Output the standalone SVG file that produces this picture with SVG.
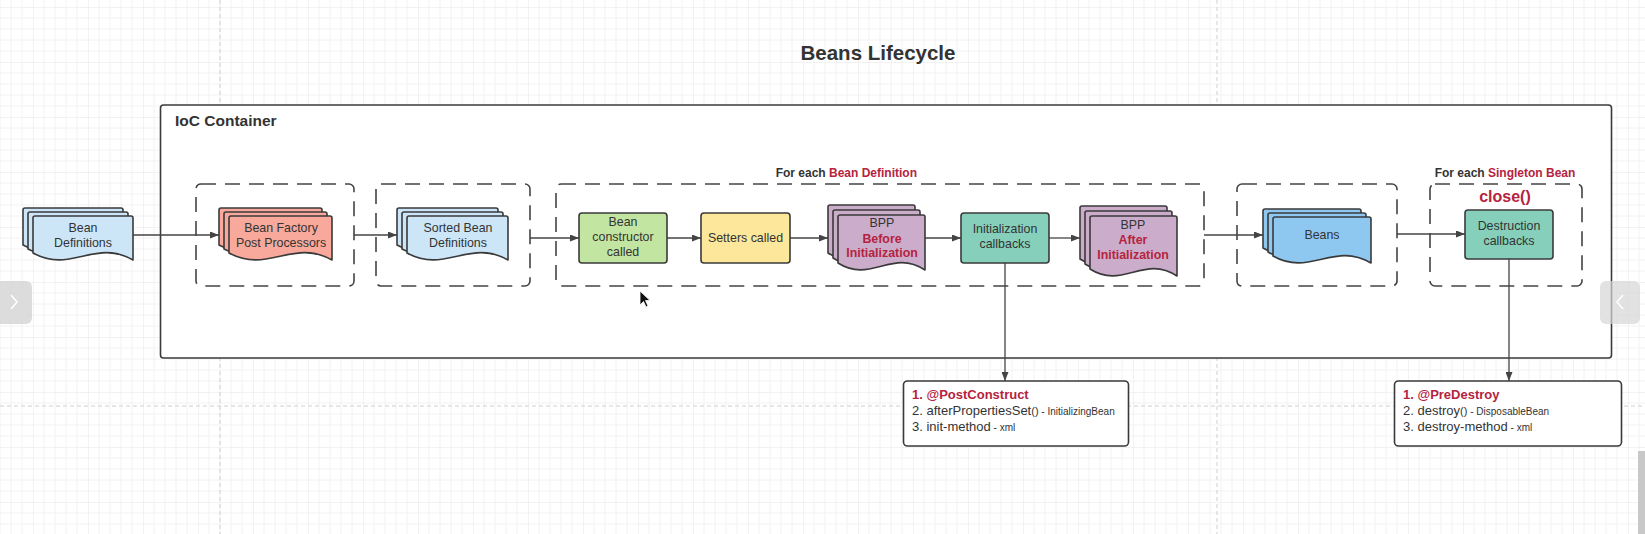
<svg xmlns="http://www.w3.org/2000/svg" width="1645" height="534" viewBox="0 0 1645 534">
  <style>
    text { font-family: "Liberation Sans", Arial, sans-serif; fill: #333; }
    .node { font-size: 12.4px; text-anchor: middle; }
    .red { fill: #b5233e; font-weight: bold; }
    .doc { stroke: #3a3a3a; stroke-width: 1.6; stroke-linejoin: round; }
    .box { stroke: #3a3a3a; stroke-width: 1.6; }
    .group { fill: #fff; stroke: #444; stroke-width: 1.6; stroke-dasharray: 15 9; }
    .conn { stroke: #444; stroke-width: 1.3; fill: none; marker-end: url(#arrow); }
    .pagebreak { stroke: #cfcfcf; stroke-width: 1; stroke-dasharray: 4 3; }
    .list { font-size: 13px; }
    .small { font-size: 10px; }
    .blue { fill: #cce6f8; }
    .salmon { fill: #f8a99b; }
    .green { fill: #c2e5a2; }
    .yellow { fill: #fde79b; }
    .purple { fill: #cbadcb; }
    .teal { fill: #86d0bb; }
    .beans { fill: #8ec8f0; }
  </style>
  <defs>
    <pattern id="grid" width="55" height="55" patternUnits="userSpaceOnUse" patternTransform="translate(33,7)">
      <path d="M11,0V55M22,0V55M33,0V55M44,0V55M0,11H55M0,22H55M0,33H55M0,44H55" stroke="#f2f2f2" stroke-width="1"/>
      <path d="M0,0V55M0,0H55" stroke="#e6e6e6" stroke-width="1"/>
    </pattern>
    <marker id="arrow" markerWidth="9" markerHeight="7" refX="9" refY="3.5" orient="auto" markerUnits="userSpaceOnUse">
      <path d="M0,0 L9,3.5 L0,7 z" fill="#444"/>
    </marker>
  </defs>

  <rect x="0" y="0" width="1645" height="534" fill="#fff"/>
  <rect x="0" y="0" width="1645" height="534" fill="url(#grid)"/>
  <line class="pagebreak" x1="220" y1="0" x2="220" y2="534"/>
  <line class="pagebreak" x1="1217" y1="0" x2="1217" y2="534"/>
  <line class="pagebreak" x1="0" y1="406" x2="1645" y2="406"/>

  <text x="878" y="60" font-size="20.5" font-weight="bold" text-anchor="middle" fill="#2b2b2b">Beans Lifecycle</text>

  <g id="ioc-container">
    <rect x="160.5" y="105" width="1451" height="253" rx="3" fill="#fff" stroke="#3a3a3a" stroke-width="1.6"/>
    <text x="175" y="126" font-size="15.5" font-weight="bold">IoC Container</text>
  </g>

  <g id="group-bfpp"><rect class="group" x="196" y="184" width="158" height="102" rx="5"/></g>
  <g id="group-sorted"><rect class="group" x="376" y="184" width="154" height="102" rx="5"/></g>
  <g id="group-each-bean-def">
    <rect class="group" x="556" y="184" width="648" height="102" rx="5"/>
    <text x="917" y="177" font-size="12" font-weight="bold" text-anchor="end">For each <tspan class="red">Bean Definition</tspan></text>
  </g>
  <g id="group-beans"><rect class="group" x="1237" y="184" width="160" height="102" rx="5"/></g>
  <g id="group-singleton">
    <rect class="group" x="1430" y="184" width="152" height="102" rx="5"/>
    <text x="1505" y="177" font-size="12" font-weight="bold" text-anchor="middle">For each <tspan class="red">Singleton Bean</tspan></text>
    <text x="1505" y="202" font-size="16" text-anchor="middle" class="red">close()</text>
  </g>

  <g id="connectors">
    <line class="conn" x1="133" y1="235" x2="219" y2="235"/>
    <line class="conn" x1="354" y1="235" x2="397" y2="235"/>
    <line class="conn" x1="530" y1="238" x2="579" y2="238"/>
    <line class="conn" x1="667" y1="238" x2="701" y2="238"/>
    <line class="conn" x1="790" y1="238" x2="828" y2="238"/>
    <line class="conn" x1="925" y1="238" x2="961" y2="238"/>
    <line class="conn" x1="1049" y1="238" x2="1080" y2="238"/>
    <line class="conn" x1="1204" y1="235" x2="1263" y2="235"/>
    <line class="conn" x1="1397" y1="234" x2="1465" y2="234"/>
    <line class="conn" x1="1005" y1="263" x2="1005" y2="381"/>
    <line class="conn" x1="1509" y1="259" x2="1509" y2="381"/>
  </g>

  <g id="bean-definitions">
    <path class="doc blue" d="M25,208 h96 q2,0 2,2 v42 c-38,-22 -62,14 -100,-7 v-35 q0,-2 2,-2 z"/>
    <path class="doc blue" d="M30,212 h96 q2,0 2,2 v42 c-38,-22 -62,14 -100,-7 v-35 q0,-2 2,-2 z"/>
    <path class="doc blue" d="M35,216 h96 q2,0 2,2 v42 c-38,-22 -62,14 -100,-7 v-35 q0,-2 2,-2 z"/>
    <text class="node" x="83" y="232">Bean</text>
    <text class="node" x="83" y="247">Definitions</text>
  </g>

  <g id="bean-factory-post-processors">
    <path class="doc salmon" d="M221,208 h99 q2,0 2,2 v42 c-39,-22 -64,14 -103,-7 v-35 q0,-2 2,-2 z"/>
    <path class="doc salmon" d="M226,212 h99 q2,0 2,2 v42 c-39,-22 -64,14 -103,-7 v-35 q0,-2 2,-2 z"/>
    <path class="doc salmon" d="M231,216 h99 q2,0 2,2 v42 c-39,-22 -64,14 -103,-7 v-35 q0,-2 2,-2 z"/>
    <text class="node" x="281" y="232">Bean Factory</text>
    <text class="node" x="281" y="247">Post Processors</text>
  </g>

  <g id="sorted-bean-definitions">
    <path class="doc blue" d="M399,208 h97 q2,0 2,2 v42 c-38,-22 -63,14 -101,-7 v-35 q0,-2 2,-2 z"/>
    <path class="doc blue" d="M404,212 h97 q2,0 2,2 v42 c-38,-22 -63,14 -101,-7 v-35 q0,-2 2,-2 z"/>
    <path class="doc blue" d="M409,216 h97 q2,0 2,2 v42 c-38,-22 -63,14 -101,-7 v-35 q0,-2 2,-2 z"/>
    <text class="node" x="458" y="232">Sorted Bean</text>
    <text class="node" x="458" y="247">Definitions</text>
  </g>

  <g id="bean-constructor">
    <rect class="box green" x="579" y="213" width="88" height="50" rx="3"/>
    <text class="node" x="623" y="226">Bean</text>
    <text class="node" x="623" y="241">constructor</text>
    <text class="node" x="623" y="256">called</text>
  </g>

  <g id="setters-called">
    <rect class="box yellow" x="701" y="213" width="89" height="50" rx="3"/>
    <text class="node" x="745.5" y="242">Setters called</text>
  </g>

  <g id="bpp-before">
    <path class="doc purple" d="M830,205 h83 q2,0 2,2 v53 c-33,-22 -54,14 -87,-7 v-46 q0,-2 2,-2 z"/>
    <path class="doc purple" d="M835,210 h83 q2,0 2,2 v53 c-33,-22 -54,14 -87,-7 v-46 q0,-2 2,-2 z"/>
    <path class="doc purple" d="M840,215 h83 q2,0 2,2 v53 c-33,-22 -54,14 -87,-7 v-46 q0,-2 2,-2 z"/>
    <text class="node" x="882" y="227">BPP</text>
    <text class="node red" x="882" y="243">Before</text>
    <text class="node red" x="882" y="257">Initialization</text>
  </g>

  <g id="initialization-callbacks">
    <rect class="box teal" x="961" y="213" width="88" height="50" rx="3"/>
    <text class="node" x="1005" y="233">Initialization</text>
    <text class="node" x="1005" y="248">callbacks</text>
  </g>

  <g id="bpp-after">
    <path class="doc purple" d="M1082,206 h83 q2,0 2,2 v58 c-33,-22 -54,14 -87,-7 v-51 q0,-2 2,-2 z"/>
    <path class="doc purple" d="M1087,211 h83 q2,0 2,2 v58 c-33,-22 -54,14 -87,-7 v-51 q0,-2 2,-2 z"/>
    <path class="doc purple" d="M1092,216 h83 q2,0 2,2 v58 c-33,-22 -54,14 -87,-7 v-51 q0,-2 2,-2 z"/>
    <text class="node" x="1133" y="229">BPP</text>
    <text class="node red" x="1133" y="244">After</text>
    <text class="node red" x="1133" y="259">Initialization</text>
  </g>

  <g id="beans">
    <path class="doc beans" d="M1265,209 h94 q2,0 2,2 v44 c-37,-22 -61,14 -98,-7 v-37 q0,-2 2,-2 z"/>
    <path class="doc beans" d="M1270,213 h94 q2,0 2,2 v44 c-37,-22 -61,14 -98,-7 v-37 q0,-2 2,-2 z"/>
    <path class="doc beans" d="M1275,217 h94 q2,0 2,2 v44 c-37,-22 -61,14 -98,-7 v-37 q0,-2 2,-2 z"/>
    <text class="node" x="1322" y="239">Beans</text>
  </g>

  <g id="destruction-callbacks">
    <rect class="box teal" x="1465" y="210" width="88" height="49" rx="3"/>
    <text class="node" x="1509" y="230">Destruction</text>
    <text class="node" x="1509" y="245">callbacks</text>
  </g>

  <g id="init-methods-note">
    <rect x="903.5" y="381" width="225" height="65" rx="4" fill="#fff" stroke="#3a3a3a" stroke-width="1.6"/>
    <text class="list red" x="912" y="399">1. @PostConstruct</text>
    <text class="list" x="912" y="415">2. afterPropertiesSet<tspan font-size="11">()</tspan><tspan class="small"> - InitializingBean</tspan></text>
    <text class="list" x="912" y="431">3. init-method<tspan class="small"> - xml</tspan></text>
  </g>

  <g id="destroy-methods-note">
    <rect x="1394.5" y="381" width="227" height="65" rx="4" fill="#fff" stroke="#3a3a3a" stroke-width="1.6"/>
    <text class="list red" x="1403" y="399">1. @PreDestroy</text>
    <text class="list" x="1403" y="415">2. destroy<tspan font-size="11">()</tspan><tspan class="small"> - DisposableBean</tspan></text>
    <text class="list" x="1403" y="431">3. destroy-method<tspan class="small"> - xml</tspan></text>
  </g>

  <g id="viewer-overlay">
    <rect x="-6" y="281" width="38" height="43" rx="6" fill="#d6d6d6" opacity="0.85"/>
    <path d="M11,295 L17,302 L11,309" fill="none" stroke="#fff" stroke-width="1.5"/>
    <rect x="1600" y="281" width="40" height="43" rx="6" fill="#d6d6d6" opacity="0.7"/>
    <path d="M1623,295 L1617,302 L1623,309" fill="none" stroke="#fff" stroke-width="1.5"/>
    <rect x="1638" y="451" width="7" height="83" fill="#c8c8c8"/>
    <path d="M640,291 L640,305 L643.5,301.5 L646,307 L648,306 L645.5,300.5 L650,300.5 Z" fill="#111" stroke="#fff" stroke-width="0.8"/>
  </g>
</svg>
